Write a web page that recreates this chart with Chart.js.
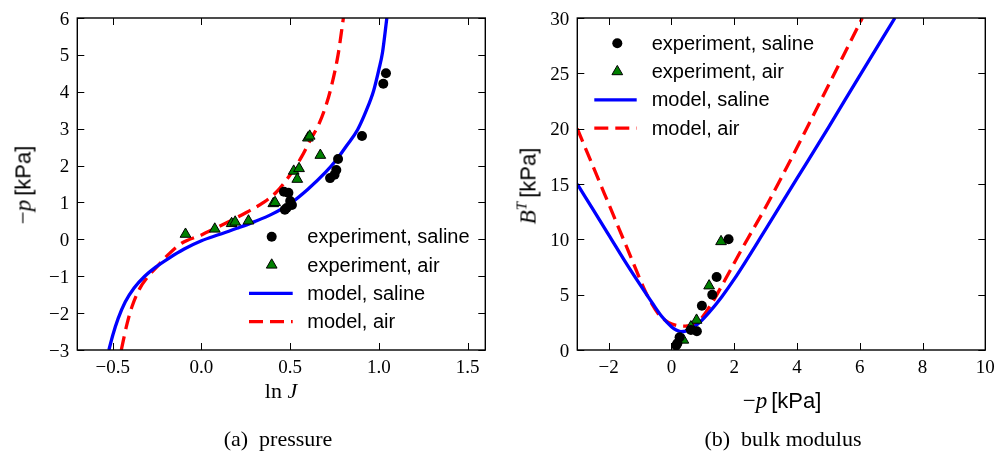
<!DOCTYPE html>
<html>
<head>
<meta charset="utf-8">
<script src="https://cdn.jsdelivr.net/npm/chart.js@4.4.0/dist/chart.umd.min.js"></script>
<style>
html,body{margin:0;padding:0;background:#fff;}
#wrap{position:relative;width:996px;height:452px;overflow:hidden;background:#fff;}
canvas{position:absolute;top:0;}
.lbl{position:absolute;white-space:nowrap;color:#000;line-height:1;transform:translate(-50%,-50%);}
.rot{transform:translate(-50%,-50%) rotate(-90deg);}
.serif{font-family:"Liberation Serif",serif;}
.sans{font-family:"Liberation Sans",Arial,sans-serif;}
.sup{position:relative;top:-9px;font-size:15px;font-style:italic;}
</style>
</head>
<body>
<div id="wrap">
  <canvas id="c1" width="498" height="452" style="left:0px"></canvas>
  <canvas id="c2" width="498" height="452" style="left:498px"></canvas>

  <div class="lbl rot" style="left:23px;top:185px;"><span class="serif" style="font-size:23px">&minus;<i>p</i></span> <span class="sans" style="font-size:22px">[kPa]</span></div>
  <div class="lbl serif" style="left:281px;top:391px;font-size:22px;">ln <i>J</i></div>
  <div class="lbl serif" style="left:278px;top:439px;font-size:22px;">(a)&nbsp;&nbsp;pressure</div>

  <div class="lbl rot" style="left:528px;top:186px;"><span class="serif" style="font-size:23px"><i>B</i><span class="sup">T</span></span> <span class="sans" style="font-size:22px">[kPa]</span></div>
  <div class="lbl" style="left:782px;top:400px;"><span class="serif" style="font-size:23px">&minus;<i>p</i></span> <span class="sans" style="font-size:22px">[kPa]</span></div>
  <div class="lbl serif" style="left:783px;top:439px;font-size:22px;">(b)&nbsp;&nbsp;bulk modulus</div>
</div>

<script>
// ---------------- DATA ----------------
// (a) pressure: x = ln J, y = -p [kPa]
const pressureXTicks = [-0.5, 0.0, 0.5, 1.0, 1.5];
const pressureYTicks = [-3, -2, -1, 0, 1, 2, 3, 4, 5, 6];

const expSalineLnJ = [1.04, 1.025, 0.905, 0.77, 0.76, 0.75, 0.725, 0.49, 0.465, 0.50, 0.48, 0.47, 0.51];
const expSalineP   = [4.50, 4.22, 2.80, 2.18, 1.88, 1.75, 1.66, 1.26, 1.29, 1.04, 0.85, 0.80, 0.93];

const expAirLnJ = [-0.09, 0.075, 0.17, 0.19, 0.265, 0.405, 0.415, 0.52, 0.54, 0.55, 0.60, 0.61, 0.67];
const expAirP   = [0.14, 0.28, 0.43, 0.47, 0.50, 0.97, 1.00, 1.85, 1.63, 1.92, 2.75, 2.80, 2.28];

const modelSalineLnJ = [-0.522, -0.50, -0.47, -0.43, -0.38, -0.32, -0.26, -0.18, -0.10, 0.0, 0.10, 0.20, 0.30, 0.40, 0.50, 0.60, 0.70, 0.76, 0.82, 0.88, 0.93, 0.97, 1.00, 1.02, 1.045];
const modelSalineP   = [-3.0, -2.6, -2.15, -1.7, -1.32, -1.0, -0.76, -0.5, -0.27, -0.04, 0.13, 0.30, 0.48, 0.69, 0.97, 1.36, 1.82, 2.15, 2.55, 2.97, 3.5, 4.02, 4.6, 5.05, 6.0];

const modelAirLnJ = [-0.452, -0.42, -0.39, -0.35, -0.30, -0.25, -0.18, -0.11, 0.0, 0.07, 0.15, 0.25, 0.35, 0.42, 0.50, 0.56, 0.62, 0.66, 0.70, 0.73, 0.77, 0.80];
const modelAirP   = [-3.0, -2.3, -1.8, -1.35, -1.0, -0.74, -0.38, -0.1, 0.12, 0.28, 0.47, 0.72, 1.0, 1.27, 1.75, 2.2, 2.75, 3.1, 3.6, 4.1, 5.0, 6.0];

// (b) bulk modulus: x = -p [kPa], y = B^T [kPa]
const bulkXTicks = [-2, 0, 2, 4, 6, 8, 10];
const bulkYTicks = [0, 5, 10, 15, 20, 25, 30];

const bulkExpSalineP = [1.82, 1.44, 1.30, 0.97, 0.81, 0.62, 0.26, 0.19, 0.15];
const bulkExpSalineB = [10.0, 6.6, 5.0, 4.0, 1.7, 1.8, 1.15, 0.6, 0.4];

const bulkExpAirP = [1.58, 1.20, 0.80, 0.62, 0.38];
const bulkExpAirB = [9.8, 5.8, 2.7, 2.1, 0.9];

const bulkModelSalineP = [-3, -2.5, -2, -1.5, -1, -0.6, -0.3, 0.0, 0.15, 0.3, 0.45, 0.65, 0.9, 1.2, 1.6, 2.0, 3.0, 4.0, 5.0, 6.0, 7.12];
const bulkModelSalineB = [15, 12.7, 10.4, 8.1, 5.9, 4.2, 3.0, 2.1, 1.8, 1.66, 1.7, 1.95, 2.5, 3.4, 4.8, 6.4, 10.9, 15.5, 20.1, 24.8, 30];

const bulkModelAirP = [-3, -2.5, -2, -1.5, -1.2, -0.8, -0.4, -0.1, 0.2, 0.45, 0.7, 0.95, 1.3, 1.7, 2.2, 3.0, 4.0, 5.0, 6.08];
const bulkModelAirB = [20, 16.6, 13.2, 9.8, 7.75, 5.1, 3.2, 2.5, 2.2, 2.15, 2.35, 2.85, 4.3, 6.3, 8.9, 12.9, 18.3, 23.9, 30];

const seriesLabels = ['experiment, saline', 'experiment, air', 'model, saline', 'model, air'];

// ---------------- HELPERS ----------------
const TICK_FONT = '19px "Liberation Serif", serif';
const LEGEND_FONT = '20px "Liberation Sans", Arial, sans-serif';

const zip = (xs, ys) => xs.map((x, i) => ({x: x, y: ys[i]}));
const MINUS = '\u2212';
const fmtFixed1 = v => (v < 0 ? MINUS : '') + Math.abs(v).toFixed(1);
const fmtInt = v => (v < 0 ? MINUS : '') + Math.abs(Math.round(v)).toString();

function makeDatasets(sx, sy, ax, ay, msx, msy, max, may) {
  return [
    {label: seriesLabels[0], data: zip(sx, sy), showLine: false, pointStyle: 'circle', pointRadius: 5,
     pointBackgroundColor: '#000000', pointBorderColor: '#000000', pointBorderWidth: 0},
    {label: seriesLabels[1], data: zip(ax, ay), showLine: false, pointStyle: 'triangle', pointRadius: 6.2,
     pointBackgroundColor: '#008000', pointBorderColor: '#000000', pointBorderWidth: 1},
    {label: seriesLabels[2], data: zip(msx, msy), showLine: true, pointRadius: 0, borderColor: '#0000ff',
     borderWidth: 3.3, fill: false, cubicInterpolationMode: 'monotone'},
    {label: seriesLabels[3], data: zip(max, may), showLine: true, pointRadius: 0, borderColor: '#ff0000',
     borderWidth: 3.3, borderDash: [14, 7], fill: false, cubicInterpolationMode: 'monotone'}
  ];
}

// Frame, inward ticks on all four sides, and tick labels taken from the library's scales
const frameTicks = {
  id: 'frameTicks',
  afterDatasetsDraw(chart, args, o) {
    const ctx = chart.ctx;
    const a = chart.chartArea;
    const xs = chart.scales.x, ys = chart.scales.y;
    const len = 7;
    ctx.save();
    ctx.strokeStyle = '#000';
    ctx.lineWidth = 1;
    ctx.beginPath();
    xs.ticks.forEach(t => {
      const px = Math.round(xs.getPixelForValue(t.value)) + 0.5;
      ctx.moveTo(px, a.bottom); ctx.lineTo(px, a.bottom - len);
      ctx.moveTo(px, a.top); ctx.lineTo(px, a.top + len);
    });
    ys.ticks.forEach(t => {
      const py = Math.round(ys.getPixelForValue(t.value)) + 0.5;
      ctx.moveTo(a.left, py); ctx.lineTo(a.left + len, py);
      ctx.moveTo(a.right, py); ctx.lineTo(a.right - len, py);
    });
    ctx.stroke();
    ctx.lineWidth = 1.4;
    ctx.strokeRect(a.left, a.top, a.right - a.left, a.bottom - a.top);

    // tick labels
    ctx.fillStyle = '#000';
    ctx.font = TICK_FONT;
    ctx.textBaseline = 'alphabetic';
    ctx.textAlign = 'center';
    xs.ticks.forEach(t => {
      const lab = t.label !== undefined && t.label !== '' ? t.label : o.fmtX(t.value);
      ctx.fillText(lab, xs.getPixelForValue(t.value), a.bottom + o.xLabelBaseline);
    });
    ctx.textAlign = 'right';
    ys.ticks.forEach(t => {
      const lab = t.label !== undefined && t.label !== '' ? t.label : o.fmtY(t.value);
      ctx.fillText(lab, a.left - o.yLabelGap, ys.getPixelForValue(t.value) + 6.5);
    });
    ctx.restore();
  }
};

const customLegend = {
  id: 'customLegend',
  afterDraw(chart, args, o) {
    const ctx = chart.ctx;
    ctx.save();
    chart.data.datasets.forEach((ds, i) => {
      const y = o.y + i * o.dy;
      if (ds.showLine) {
        ctx.strokeStyle = ds.borderColor;
        ctx.lineWidth = ds.borderWidth;
        ctx.setLineDash(ds.borderDash || []);
        ctx.beginPath();
        ctx.moveTo(o.lineX0, y);
        ctx.lineTo(o.lineX1, y);
        ctx.stroke();
        ctx.setLineDash([]);
      } else {
        ctx.fillStyle = ds.pointBackgroundColor;
        ctx.strokeStyle = ds.pointBorderColor;
        ctx.lineWidth = ds.pointBorderWidth;
        Chart.helpers.drawPoint(ctx, {pointStyle: ds.pointStyle, radius: ds.pointRadius,
          borderWidth: ds.pointBorderWidth, rotation: 0}, o.markerX, y);
      }
      ctx.fillStyle = '#000';
      ctx.font = LEGEND_FONT;
      ctx.textAlign = 'left';
      ctx.textBaseline = 'middle';
      ctx.fillText(ds.label, o.textX, y + 1);
    });
    ctx.restore();
  }
};

function makeOptions(o) {
  return {
    responsive: false,
    animation: false,
    devicePixelRatio: 1,
    events: [],
    layout: {padding: o.padding},
    plugins: {
      legend: {display: false},
      tooltip: {enabled: false},
      customLegend: o.legend,
      frameTicks: {fmtX: o.fmtX, fmtY: o.fmtY, xLabelBaseline: 23, yLabelGap: 8}
    },
    scales: {
      x: {
        type: 'linear', position: 'bottom', min: o.xMin, max: o.xMax,
        afterBuildTicks: s => { s.ticks = o.xTicks.map(v => ({value: v})); },
        afterFit: s => { s.height = o.xHeight; },
        grid: {display: false, drawTicks: false},
        border: {display: false},
        ticks: {display: false, autoSkip: false, maxRotation: 0, callback: o.fmtX}
      },
      y: {
        type: 'linear', position: 'left', min: o.yMin, max: o.yMax,
        afterBuildTicks: s => { s.ticks = o.yTicks.map(v => ({value: v})); },
        afterFit: s => { s.width = o.yWidth; },
        grid: {display: false, drawTicks: false},
        border: {display: false},
        ticks: {display: false, autoSkip: false, callback: o.fmtY}
      }
    }
  };
}

function build() {
  new Chart(document.getElementById('c1'), {
    type: 'scatter',
    data: {datasets: makeDatasets(expSalineLnJ, expSalineP, expAirLnJ, expAirP,
                                  modelSalineLnJ, modelSalineP, modelAirLnJ, modelAirP)},
    options: makeOptions({
      padding: {left: 0, top: 18, right: 12.7, bottom: 0},
      xMin: -0.7, xMax: 1.6, yMin: -3, yMax: 6,
      xTicks: pressureXTicks, yTicks: pressureYTicks,
      xHeight: 102, yWidth: 77.3,
      fmtX: fmtFixed1, fmtY: fmtInt,
      legend: {y: 236.7, dy: 28.3, markerX: 271.7, lineX0: 249, lineX1: 292.7, textX: 307.3}
    }),
    plugins: [frameTicks, customLegend]
  });

  new Chart(document.getElementById('c2'), {
    type: 'scatter',
    data: {datasets: makeDatasets(bulkExpSalineP, bulkExpSalineB, bulkExpAirP, bulkExpAirB,
                                  bulkModelSalineP, bulkModelSalineB, bulkModelAirP, bulkModelAirB)},
    options: makeOptions({
      padding: {left: 0, top: 18, right: 10.7, bottom: 0},
      xMin: -3, xMax: 10, yMin: 0, yMax: 30,
      xTicks: bulkXTicks, yTicks: bulkYTicks,
      xHeight: 102, yWidth: 79.3,
      fmtX: fmtInt, fmtY: fmtInt,
      legend: {y: 43.3, dy: 28.3, markerX: 119.3, lineX0: 96.3, lineX1: 138.7, textX: 153.7}
    }),
    plugins: [frameTicks, customLegend]
  });
}

Promise.all([
  document.fonts.load('19px "Liberation Serif"'),
  document.fonts.load('20px "Liberation Sans"')
]).then(build, build);
</script>
</body>
</html>
